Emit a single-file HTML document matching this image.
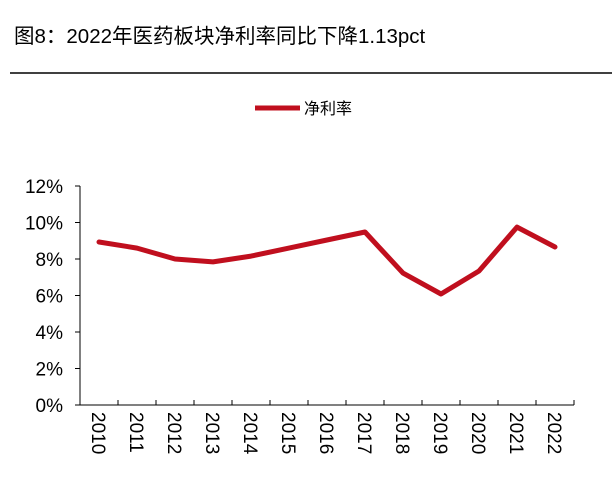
<!DOCTYPE html>
<html><head><meta charset="utf-8"><style>
body{margin:0;background:#fff;width:612px;height:481px;overflow:hidden;font-family:"Liberation Sans","Noto Sans CJK SC",sans-serif}
</style></head><body>
<svg width="612" height="481" xmlns="http://www.w3.org/2000/svg">
<text x="14" y="43" font-size="20.5" fill="#000" font-family="Liberation Sans, Noto Sans CJK SC, sans-serif">图8：2022年医药板块净利率同比下降1.13pct</text>
<line x1="10" y1="73" x2="612" y2="73" stroke="#000" stroke-width="1.5"/>
<g>
<line x1="255" y1="108" x2="300" y2="108" stroke="#C00F1E" stroke-width="5"/>
<text x="304" y="114" font-size="16" font-family="Noto Sans CJK SC, sans-serif">净利率</text>
</g>
<g id="axes"></g>
<g id="plot"></g>
</svg>
<script>
const categories=["2010","2011","2012","2013","2014","2015","2016","2017","2018","2019","2020","2021","2022"];
const values=[8.93,8.6,8.0,7.84,8.16,8.6,9.04,9.48,7.23,6.08,7.34,9.75,8.66];
const yTicks=[0,2,4,6,8,10,12];
const NS="http://www.w3.org/2000/svg";
const x0=80,x1=574,yBase=405,yTop=186;
const band=(x1-x0)/categories.length;
const xs=i=>x0+band*(i+0.5);
const ys=v=>yBase-(v/12)*(yBase-yTop);
const axes=document.getElementById('axes'),plot=document.getElementById('plot');
function mk(t,a,p){const e=document.createElementNS(NS,t);for(const k in a)e.setAttribute(k,a[k]);p.appendChild(e);return e;}
let e=mk('line',{x1:x0,y1:yTop,x2:x0,y2:yBase,stroke:'#000','stroke-width':1},axes);


e=mk('line',{x1:x0,y1:yBase,x2:x1,y2:yBase,stroke:'#000','stroke-width':1},axes);


yTicks.forEach(v=>{
 const y=ys(v);
 let t=mk('line',{x1:x0-5,y1:y,x2:x0,y2:y,stroke:'#000'},axes);
 
 
 let l=mk('text',{x:63,y:y+7,'text-anchor':'end','font-size':19},axes);
 l.textContent=v+'%';
 
 
});
for(let i=0;i<=categories.length;i++){
 const x=x0+band*i;
 let t=mk('line',{x1:x,y1:yBase,x2:x,y2:yBase-5,stroke:'#000'},axes);
 
 
}
categories.forEach((c,i)=>{
 const x=xs(i);
 let l=mk('text',{x:0,y:0,'font-size':19,transform:`translate(${x-7},412) rotate(90)`},axes);
 l.textContent=c;
 
 
});
const pts=values.map((v,i)=>xs(i).toFixed(1)+','+ys(v).toFixed(1)).join(' ');
let pl=mk('polyline',{points:pts,fill:'none',stroke:'#C00F1E','stroke-width':5,'stroke-linejoin':'round','stroke-linecap':'round'},plot);


</script>
</body></html>
